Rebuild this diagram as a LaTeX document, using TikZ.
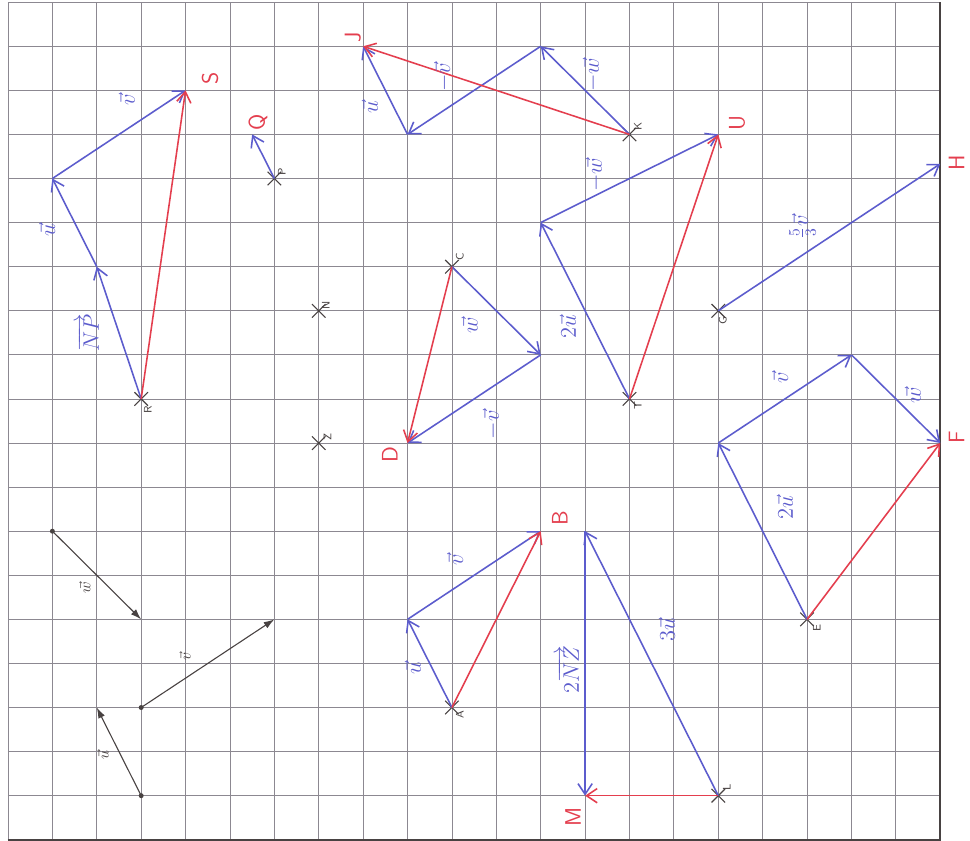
\documentclass[tikz,border=0pt]{standalone}
\usepackage{tikz}
\usetikzlibrary{arrows.meta, shapes.misc}
\usepackage{xcolor}

\definecolor{penblue}{RGB}{92,92,205}
\definecolor{penred}{RGB}{228,62,78}
\definecolor{pencil}{RGB}{72,66,66}
\definecolor{gridgray}{RGB}{140,136,145}

\begin{document}
\begin{tikzpicture}[
  x=1cm, y=0.993cm,
    gridline/.style={
        draw=gridgray,
        line width=0.55pt
    },
    crossmark/.style={
        draw=pencil,
        cross out,
        minimum size=0.28cm,
        inner sep=0pt,
        line width=0.7pt
    },
    bluearrow/.style={
        -{Straight Barb[length=2.4mm,width=3.2mm]},
        draw=penblue,
        line width=1pt
    },
    redarrow/.style={
        -{Straight Barb[length=2.4mm,width=3.2mm]},
        draw=penred,
        line width=1pt
    },
    pencilarrow/.style={
        -{Latex[length=2.4mm,width=1.6mm]},
        draw=pencil,
        line width=0.7pt
    },
    vlabel/.style={
        rotate=90,
        text=penblue,
        font=\Large
    },
    blacklabel/.style={
        rotate=90,
        text=pencil,
        font=\normalsize
    },
    ptlabel/.style={
        rotate=90,
        text=penred,
        font=\Large\sffamily
    },
    crosslabel/.style={
        rotate=90,
        text=pencil,
        font=\scriptsize\sffamily
    }
]

\useasboundingbox (-0.18,-0.02) rectangle (21.67,19.05);
\fill[white] (-0.18,-0.02) rectangle (21.67,19.05);

\foreach \i in {0,...,21} \draw[gridline] (\i,0) -- (\i,19);
\foreach \j in {0,...,19} \draw[gridline] (0,\j) -- (21,\j);
\draw[pencil, line width=1.1pt] (0,0) -- (21,0) -- (21,19);

\coordinate (R) at (3,10);
\coordinate (R1) at (2,13);
\coordinate (R2) at (1,15);
\coordinate (S) at (4,17);
\coordinate (P) at (6,15);
\coordinate (Q) at (5.5,16);
\coordinate (N) at (7,12);
\coordinate (Z) at (7,9);
\coordinate (K) at (14,16);
\coordinate (K1) at (12,18);
\coordinate (K2) at (9,16);
\coordinate (J) at (8,18);
\coordinate (C) at (10,13);
\coordinate (C1) at (12,11);
\coordinate (D) at (9,9);
\coordinate (T) at (14,10);
\coordinate (T1) at (12,14);
\coordinate (U) at (16,16);
\coordinate (G) at (16,12);
\coordinate (H) at (21,15.333);
\coordinate (E) at (18,5);
\coordinate (E1) at (16,9);
\coordinate (E2) at (19,11);
\coordinate (F) at (21,9);
\coordinate (L) at (16,1);
\coordinate (L1) at (13,7);
\coordinate (M) at (13,1);
\coordinate (A) at (10,3);
\coordinate (A1) at (9,5);
\coordinate (B) at (12,7);
\coordinate (w0) at (1,7);
\coordinate (w1) at (3,5);
\coordinate (v0) at (3,3);
\coordinate (v1) at (6,5);
\coordinate (u0) at (3,1);
\coordinate (u1) at (2,3);

\foreach \p in {R,P,N,Z,C,K,T,G,E,L,A}
  \node[crossmark] (x\p) at (\p) {};

\fill[pencil] (w0) circle (1.6pt);
\fill[pencil] (v0) circle (1.6pt);
\fill[pencil] (u0) circle (1.6pt);

\draw[pencilarrow] (w0) -- (w1);
\draw[pencilarrow] (v0) -- (v1);
\draw[pencilarrow] (u0) -- (u1);

\draw[bluearrow] (R) -- (R1);
\draw[bluearrow] (R1) -- (R2);
\draw[bluearrow] (R2) -- (S);
\draw[redarrow] (R) -- (S);

\draw[bluearrow] (P) -- (Q);

\draw[bluearrow] (K) -- (K1);
\draw[bluearrow] (K1) -- (K2);
\draw[bluearrow] (K2) -- (J);
\draw[redarrow] (K) -- (J);

\draw[bluearrow] (C) -- (C1);
\draw[bluearrow] (C1) -- (D);
\draw[redarrow] (C) -- (D);

\draw[bluearrow] (T) -- (T1);
\draw[bluearrow] (T1) -- (U);
\draw[redarrow] (T) -- (U);

\draw[bluearrow] (G) -- (H);

\draw[bluearrow] (E) -- (E1);
\draw[bluearrow] (E1) -- (E2);
\draw[bluearrow] (E2) -- (F);
\draw[redarrow] (E) -- (F);

\draw[bluearrow] (L) -- (L1);
\draw[bluearrow] (L1) -- (M);
\draw[redarrow] (L) -- (M);

\draw[bluearrow] (A) -- (A1);
\draw[bluearrow] (A1) -- (B);
\draw[redarrow] (A) -- (B);

\node[blacklabel] (lw) at (1.73,5.71) {$\vec{w}$};
\node[blacklabel] (lv) at (3.99,4.15) {$\vec{v}$};
\node[blacklabel] (lu) at (2.14,1.93) {$\vec{u}$};

\node[vlabel] (lNP) at (1.8,11.5) {$\overrightarrow{NP}$};
\node[vlabel] (lRu) at (0.88,13.83) {$\vec{u}$};
\node[vlabel] (lRv) at (2.68,16.78) {$\vec{v}$};
\node[vlabel] (lKu) at (8.15,16.62) {$\vec{u}$};
\node[vlabel] (lKv) at (9.8,17.3) {$-\vec{v}$};
\node[vlabel] (lKw) at (13.15,17.35) {$-\vec{w}$};
\node[vlabel] (lTw) at (13.22,15.08) {$-\vec{w}$};
\node[vlabel] (lCw) at (10.4,11.68) {$\vec{w}$};
\node[vlabel] (lTu) at (12.61,11.63) {$2\vec{u}$};
\node[vlabel] (lCv) at (10.9,9.41) {$-\vec{v}$};
\node[vlabel] (lGv) at (17.9,13.9) {$\frac{5}{3}\vec{v}$};
\node[vlabel] (lEv) at (17.39,10.48) {$\vec{v}$};
\node[vlabel] (lEw) at (20.38,10.09) {$\vec{w}$};
\node[vlabel] (lEu) at (17.5,7.53) {$2\vec{u}$};
\node[vlabel] (lLu) at (14.84,4.76) {$3\vec{u}$};
\node[vlabel] (lAv) at (10.07,6.35) {$\vec{v}$};
\node[vlabel] (lAu) at (9.12,3.9) {$\vec{u}$};
\node[vlabel] (lNZ) at (12.61,3.85) {$2\overrightarrow{NZ}$};

\node[ptlabel] (lS) at (4.55,17.28) {S};
\node[ptlabel] (lQ) at (5.63,16.28) {Q};
\node[ptlabel] (lJ) at (7.77,18.2) {J};
\node[ptlabel] (lD) at (8.6,8.73) {D};
\node[ptlabel] (lU) at (16.42,16.26) {U};
\node[ptlabel] (lH) at (21.37,15.35) {H};
\node[ptlabel] (lF) at (21.37,9.14) {F};
\node[ptlabel] (lB) at (12.43,7.3) {B};
\node[ptlabel] (lM) at (12.73,0.52) {M};

\node[crosslabel] (lR) at (3.15,9.75) {R};
\node[crosslabel] (lP) at (6.17,15.15) {P};
\node[crosslabel] (lN) at (7.16,12.13) {N};
\node[crosslabel] (lZ) at (7.2,9.14) {Z};
\node[crosslabel] (lC) at (10.18,13.22) {C};
\node[crosslabel] (lK) at (14.19,16.17) {K};
\node[crosslabel] (lT) at (14.19,9.86) {T};
\node[crosslabel] (lG) at (16.1,11.78) {G};
\node[crosslabel] (lE) at (18.22,4.81) {E};
\node[crosslabel] (lL) at (16.19,1.18) {L};
\node[crosslabel] (lA) at (10.18,2.83) {A};

\end{tikzpicture}
\end{document}
